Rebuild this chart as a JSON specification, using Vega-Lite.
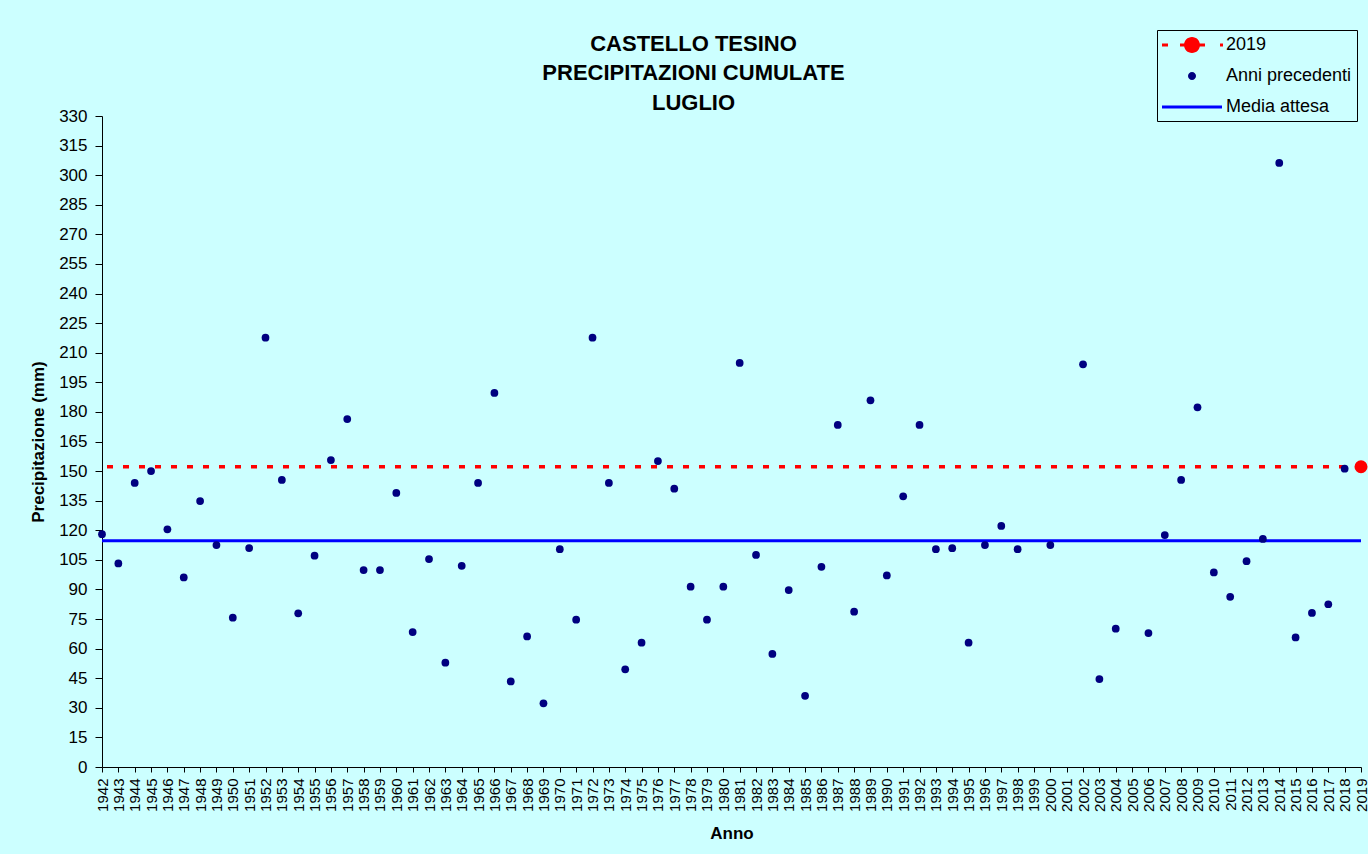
{
  "$schema": "https://vega.github.io/schema/vega-lite/v6.json",
  "width": 1259,
  "height": 651,
  "autosize": {"type": "none"},
  "padding": {"left": 102, "top": 116, "right": 7, "bottom": 87},
  "background": "#CCFFFF",
  "config": {"view": {"stroke": null}, "font": "Liberation Sans"},
  "title": {
    "text": ["CASTELLO TESINO", "PRECIPITAZIONI CUMULATE", "LUGLIO"],
    "font": "Liberation Sans",
    "fontSize": 22,
    "fontWeight": "bold",
    "color": "black",
    "lineHeight": 29.5,
    "anchor": "middle",
    "baseline": "bottom",
    "dx": -38,
    "dy": 107,
    "offset": 0
  },
  "datasets": {
    "precipitazioni": [
      {"anno": 1942, "valore": 118.0, "serie": "Anni precedenti"},
      {"anno": 1943, "valore": 103.2, "serie": "Anni precedenti"},
      {"anno": 1944, "valore": 144.0, "serie": "Anni precedenti"},
      {"anno": 1945, "valore": 150.0, "serie": "Anni precedenti"},
      {"anno": 1946, "valore": 120.5, "serie": "Anni precedenti"},
      {"anno": 1947, "valore": 96.1, "serie": "Anni precedenti"},
      {"anno": 1948, "valore": 134.8, "serie": "Anni precedenti"},
      {"anno": 1949, "valore": 112.5, "serie": "Anni precedenti"},
      {"anno": 1950, "valore": 75.7, "serie": "Anni precedenti"},
      {"anno": 1951, "valore": 111.0, "serie": "Anni precedenti"},
      {"anno": 1952, "valore": 217.6, "serie": "Anni precedenti"},
      {"anno": 1953, "valore": 145.5, "serie": "Anni precedenti"},
      {"anno": 1954, "valore": 77.9, "serie": "Anni precedenti"},
      {"anno": 1955, "valore": 107.1, "serie": "Anni precedenti"},
      {"anno": 1956, "valore": 155.6, "serie": "Anni precedenti"},
      {"anno": 1957, "valore": 176.4, "serie": "Anni precedenti"},
      {"anno": 1958, "valore": 99.8, "serie": "Anni precedenti"},
      {"anno": 1959, "valore": 99.8, "serie": "Anni precedenti"},
      {"anno": 1960, "valore": 138.9, "serie": "Anni precedenti"},
      {"anno": 1961, "valore": 68.4, "serie": "Anni precedenti"},
      {"anno": 1962, "valore": 105.4, "serie": "Anni precedenti"},
      {"anno": 1963, "valore": 52.9, "serie": "Anni precedenti"},
      {"anno": 1964, "valore": 102.0, "serie": "Anni precedenti"},
      {"anno": 1965, "valore": 144.0, "serie": "Anni precedenti"},
      {"anno": 1966, "valore": 189.6, "serie": "Anni precedenti"},
      {"anno": 1967, "valore": 43.4, "serie": "Anni precedenti"},
      {"anno": 1968, "valore": 66.2, "serie": "Anni precedenti"},
      {"anno": 1969, "valore": 32.3, "serie": "Anni precedenti"},
      {"anno": 1970, "valore": 110.4, "serie": "Anni precedenti"},
      {"anno": 1971, "valore": 74.7, "serie": "Anni precedenti"},
      {"anno": 1972, "valore": 217.6, "serie": "Anni precedenti"},
      {"anno": 1973, "valore": 144.0, "serie": "Anni precedenti"},
      {"anno": 1974, "valore": 49.5, "serie": "Anni precedenti"},
      {"anno": 1975, "valore": 63.0, "serie": "Anni precedenti"},
      {"anno": 1976, "valore": 155.1, "serie": "Anni precedenti"},
      {"anno": 1977, "valore": 141.1, "serie": "Anni precedenti"},
      {"anno": 1978, "valore": 91.4, "serie": "Anni precedenti"},
      {"anno": 1979, "valore": 74.7, "serie": "Anni precedenti"},
      {"anno": 1980, "valore": 91.4, "serie": "Anni precedenti"},
      {"anno": 1981, "valore": 204.8, "serie": "Anni precedenti"},
      {"anno": 1982, "valore": 107.5, "serie": "Anni precedenti"},
      {"anno": 1983, "valore": 57.3, "serie": "Anni precedenti"},
      {"anno": 1984, "valore": 89.7, "serie": "Anni precedenti"},
      {"anno": 1985, "valore": 36.1, "serie": "Anni precedenti"},
      {"anno": 1986, "valore": 101.5, "serie": "Anni precedenti"},
      {"anno": 1987, "valore": 173.4, "serie": "Anni precedenti"},
      {"anno": 1988, "valore": 78.7, "serie": "Anni precedenti"},
      {"anno": 1989, "valore": 185.9, "serie": "Anni precedenti"},
      {"anno": 1990, "valore": 97.1, "serie": "Anni precedenti"},
      {"anno": 1991, "valore": 137.2, "serie": "Anni precedenti"},
      {"anno": 1992, "valore": 173.4, "serie": "Anni precedenti"},
      {"anno": 1993, "valore": 110.4, "serie": "Anni precedenti"},
      {"anno": 1994, "valore": 110.9, "serie": "Anni precedenti"},
      {"anno": 1995, "valore": 63.0, "serie": "Anni precedenti"},
      {"anno": 1996, "valore": 112.5, "serie": "Anni precedenti"},
      {"anno": 1997, "valore": 122.2, "serie": "Anni precedenti"},
      {"anno": 1998, "valore": 110.4, "serie": "Anni precedenti"},
      {"anno": 2000, "valore": 112.5, "serie": "Anni precedenti"},
      {"anno": 2002, "valore": 204.1, "serie": "Anni precedenti"},
      {"anno": 2003, "valore": 44.6, "serie": "Anni precedenti"},
      {"anno": 2004, "valore": 70.1, "serie": "Anni precedenti"},
      {"anno": 2006, "valore": 67.9, "serie": "Anni precedenti"},
      {"anno": 2007, "valore": 117.6, "serie": "Anni precedenti"},
      {"anno": 2008, "valore": 145.5, "serie": "Anni precedenti"},
      {"anno": 2009, "valore": 182.3, "serie": "Anni precedenti"},
      {"anno": 2010, "valore": 98.6, "serie": "Anni precedenti"},
      {"anno": 2011, "valore": 86.3, "serie": "Anni precedenti"},
      {"anno": 2012, "valore": 104.3, "serie": "Anni precedenti"},
      {"anno": 2013, "valore": 115.6, "serie": "Anni precedenti"},
      {"anno": 2014, "valore": 306.2, "serie": "Anni precedenti"},
      {"anno": 2015, "valore": 65.7, "serie": "Anni precedenti"},
      {"anno": 2016, "valore": 78.1, "serie": "Anni precedenti"},
      {"anno": 2017, "valore": 82.5, "serie": "Anni precedenti"},
      {"anno": 2018, "valore": 151.2, "serie": "Anni precedenti"},
      {"anno": 2019, "valore": 152.2, "serie": "2019"}
    ],
    "media": [
      {"serie": "Media attesa", "valore": 114.7}
    ]
  },
  "encoding": {
    "y": {
      "field": "valore",
      "type": "quantitative",
      "scale": {"domain": [0, 330], "nice": false, "zero": true},
      "axis": {
        "values": [0, 15, 30, 45, 60, 75, 90, 105, 120, 135, 150, 165, 180, 195, 210, 225, 240, 255, 270, 285, 300, 315, 330],
        "grid": false,
        "labelFontSize": 17,
        "labelColor": "black",
        "labelFont": "Liberation Sans",
        "tickSize": 7,
        "tickColor": "black",
        "domainColor": "black",
        "labelPadding": 8,
        "title": "Precipitazione (mm)",
        "titleFont": "Liberation Sans",
        "titleFontSize": 17,
        "titleFontWeight": "bold",
        "titleColor": "black",
        "titlePadding": 11,
        "labelOverlap": false,
        "labelFlush": false
      }
    }
  },
  "layer": [
    {
      "data": {"name": "media"},
      "mark": {"type": "rule", "color": "#0000FF", "strokeWidth": 3},
      "encoding": {}
    },
    {
      "data": {"name": "precipitazioni"},
      "transform": [{"filter": "datum.serie === '2019'"}],
      "mark": {"type": "rule", "color": "#FF0000", "strokeWidth": 3.3, "strokeDash": [6, 10]},
      "encoding": {}
    },
    {
      "data": {"name": "precipitazioni"},
      "mark": {"type": "point", "filled": true, "shape": "circle", "opacity": 1, "strokeWidth": 0},
      "encoding": {
        "x": {
          "field": "anno",
          "type": "quantitative",
          "scale": {"domain": [1942, 2019], "nice": false, "zero": false},
          "axis": {
            "values": [1942,1943,1944,1945,1946,1947,1948,1949,1950,1951,1952,1953,1954,1955,1956,1957,1958,1959,1960,1961,1962,1963,1964,1965,1966,1967,1968,1969,1970,1971,1972,1973,1974,1975,1976,1977,1978,1979,1980,1981,1982,1983,1984,1985,1986,1987,1988,1989,1990,1991,1992,1993,1994,1995,1996,1997,1998,1999,2000,2001,2002,2003,2004,2005,2006,2007,2008,2009,2010,2011,2012,2013,2014,2015,2016,2017,2018,2019],
            "format": "d",
            "labelAngle": -90,
            "labelFontSize": 15,
            "labelColor": "black",
            "labelFont": "Liberation Sans",
            "tickSize": 5,
            "tickColor": "black",
            "domainColor": "black",
            "labelPadding": 6,
            "grid": false,
            "labelOverlap": false,
            "labelFlush": false,
            "labelBound": false,
            "title": "Anno",
            "titleFont": "Liberation Sans",
            "titleFontSize": 17,
            "titleFontWeight": "bold",
            "titleColor": "black",
            "titlePadding": 14
          }
        },
        "color": {
          "field": "serie",
          "type": "nominal",
          "scale": {
            "domain": ["2019", "Anni precedenti", "Media attesa"],
            "range": ["#FF0000", "#000080", "#0000FF"]
          },
          "legend": {
            "orient": "none",
            "legendX": 1055,
            "legendY": -86,
            "title": null,
            "direction": "vertical",
            "labelFont": "Liberation Sans",
            "labelFontSize": 18,
            "labelColor": "black",
            "symbolSize": 400,
            "symbolStrokeWidth": 0,
            "symbolOffset": 20,
            "symbolOpacity": 1,
            "labelOffset": 24,
            "rowPadding": 12,
            "padding": 5,
            "strokeColor": "black",
            "fillColor": "#CCFFFF",
            "encode": {
              "symbols": {
                "update": {
                  "shape": {
                    "signal": "datum.value === '2019' ? 'M-3,-0.16H-2.4V0.16H-3Z M-1.2,-0.16H1.3V0.16H-1.2Z M2.8,-0.16H3.1V0.16H2.8Z M-0.8,0A0.8,0.8,0,1,1,0.8,0A0.8,0.8,0,1,1,-0.8,0Z' : datum.value === 'Anni precedenti' ? 'M-0.4,0A0.4,0.4,0,1,1,0.4,0A0.4,0.4,0,1,1,-0.4,0Z' : 'M-3,-0.15H3V0.15H-3Z'"
                  }
                }
              }
            }
          }
        },
        "size": {
          "condition": {"test": "datum.serie === '2019'", "value": 170},
          "value": 60
        }
      }
    }
  ]
}
